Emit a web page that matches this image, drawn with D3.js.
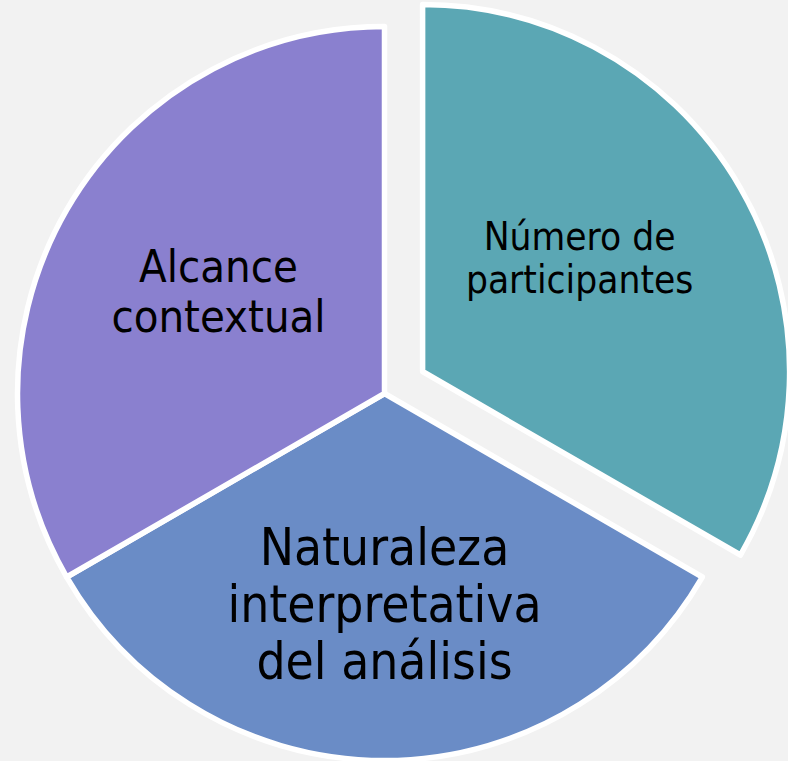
<!DOCTYPE html>
<html>
<head>
<meta charset="utf-8">
<script src="https://cdn.jsdelivr.net/npm/d3@7"></script>
<style>
  html, body { margin: 0; padding: 0; background: #f2f2f2; }
  svg { display: block; }
  text { font-family: "DejaVu Sans Condensed", "DejaVu Sans", sans-serif; font-stretch: condensed; fill: #000; }
</style>
</head>
<body>
<svg id="chart"></svg>
<script>
const WIDTH = 788, HEIGHT = 761;

// datos: tres partes iguales
const categories = ["Número de participantes", "Naturaleza interpretativa del análisis", "Alcance contextual"];
const values = [1, 1, 1];
const labelLines = [
    ["Número de", "participantes"],
    ["Naturaleza", "interpretativa", "del análisis"],
    ["Alcance", "contextual"]
];
const colors = ["#5ba7b4", "#6a8cc6", "#8a80cf"];
const exploded = [true, false, false];

// estilo de etiquetas (tamaño, interlineado, desplazamiento desde el centro de la porción)
const labelSize = [38.5, 51, 45];
const labelLeading = [42.5, 57, 50];
const labelOffset = [[157, -100], [0, 228], [-166, -87]];

const cx = 384.5, cy = 393.5, radius = 367, explode = 44;

const svg = d3.select("svg#chart")
    .attr("width", WIDTH)
    .attr("height", HEIGHT);

svg.append("rect")
    .attr("width", WIDTH)
    .attr("height", HEIGHT)
    .attr("fill", "#f2f2f2");

const pie = d3.pie().sort(null).value((d) => d)(values);
const arc = d3.arc().innerRadius(0).outerRadius(radius);

const slices = svg.append("g")
    .attr("transform", `translate(${cx}, ${cy})`)
    .selectAll("g.slice")
    .data(pie)
    .join("g")
        .attr("class", "slice")
        .attr("transform", (d, i) => {
            if (!exploded[i]) return null;
            const a = (d.startAngle + d.endAngle) / 2;
            return `translate(${explode * Math.sin(a)}, ${-explode * Math.cos(a)})`;
        });

slices.append("path")
    .attr("d", arc)
    .attr("fill", (d, i) => colors[i])
    .attr("stroke", "#ffffff")
    .attr("stroke-width", 5.5)
    .attr("stroke-linejoin", "round");

slices.append("text")
    .attr("text-anchor", "middle")
    .attr("font-size", (d, i) => labelSize[i])
    .each(function (d, i) {
        const lines = labelLines[i];
        const [ox, oy] = labelOffset[i];
        const first = oy - (lines.length - 1) * labelLeading[i] / 2;
        d3.select(this).selectAll("tspan")
            .data(lines)
            .join("tspan")
                .attr("x", ox)
                .attr("y", (l, j) => first + j * labelLeading[i])
                .text((l) => l);
    });
</script>
</body>
</html>
